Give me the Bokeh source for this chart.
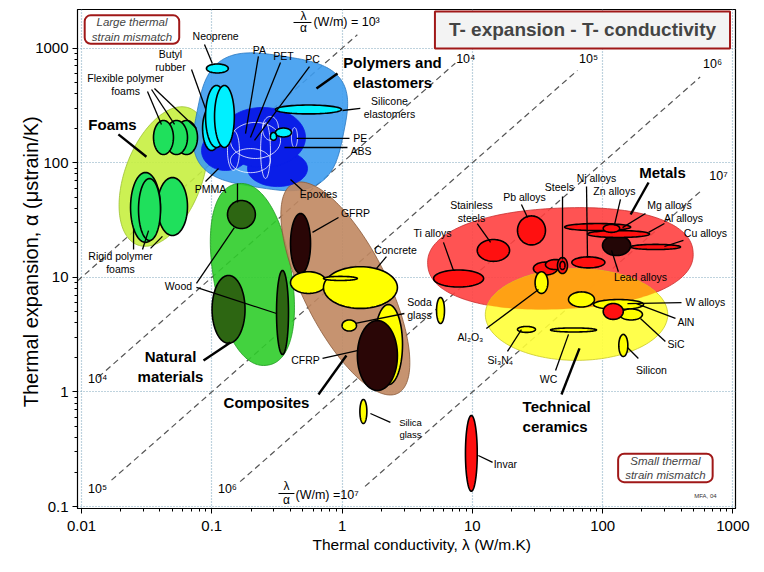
import numpy as np
from bokeh.plotting import figure
from bokeh.models import Range1d, FixedTicker, Label, ColumnDataSource, Title
from bokeh.core.properties import value
from bokeh.embed import file_html
from bokeh.resources import INLINE

FONT = "Liberation Sans"

# ------------------------------------------------------------------ data
# axis ticks
x_ticks = [0.01, 0.1, 1, 10, 100, 1000]
x_tick_labels = ["0.01", "0.1", "1", "10", "100", "1000"]
y_ticks = [0.1, 1, 10, 100, 1000]
y_tick_labels = ["0.1", "1", "10", "100", "1000"]
x_title = "Thermal conductivity, \u03bb  (W/m.K)"
y_title = "Thermal expansion, \u03b1  (\u03bcstrain/K)"

# family envelopes: centre (lambda W/m.K, alpha ustrain/K), half extents (decades), tilt (deg), squareness
family_names = ["Foams", "Polymers and elastomers", "Natural materials",
                "Composites", "Metals", "Technical ceramics"]
family_lam_c = [0.0426, 0.282, 0.205, 1.06, 47.4, 63.0]
family_alpha_c = [75.9, 228.0, 10.6, 8.0, 14.6, 4.74]
family_half_w = [0.30, 0.57, 0.30, 1.00, 1.02, 0.70]
family_half_h = [0.63, 0.58, 0.80, 0.33, 0.44, 0.40]
family_tilt = [-17, -10, 8, -67, 3, 0]
family_square = [2.0, 3.2, 2.2, 2.0, 2.2, 2.0]

# material bubbles (drawing order): lambda range, alpha range, kind
mat_name = ["PMMA", "Epoxies", "PA-PET-PC",
            "PA", "PET", "PC", "PS", "PP", "PE-thin",
            "Neoprene", "Butyl a", "Butyl b", "Butyl c", "Silicone", "PE", "ABS",
            "Flex foam c", "Flex foam b", "Flex foam a",
            "Rigid foam c", "Rigid foam a", "Rigid foam b",
            "Wood circle", "Wood big", "Wood thin",
            "GFRP",
            "Concrete small", "Concrete", "Concrete bar", "Glass crescent",
            "CFRP",
            "Soda glass", "Soda glass b", "Silica glass",
            "Ti alloys", "Stainless steels", "Pb alloys", "Steels a", "Steels b",
            "Steels c", "Steels d", "Nj alloys", "Lead alloys", "Mg alloys",
            "Al alloys", "Zn alloys", "Cu alloys", "Invar",
            "Al2O3", "BeO", "W alloys", "AlN", "W alloys red", "Si3N4", "WC", "Silicon"]
mat_lam_lo = [0.0834, 0.188, 0.115,
              0.139, 0.132, 0.237, 0.139, 0.245, 0.409,
              0.091, 0.085, 0.0896, 0.105, 0.308, 0.308, 0.282,
              0.0527, 0.0441, 0.0357,
              0.0383, 0.0238, 0.0274,
              0.132, 0.1005, 0.314,
              0.402,
              0.402, 0.72, 0.72, 1.77,
              1.31,
              1.0, 5.31, 1.37,
              5.04, 10.9, 22.2, 29.4, 36.4,
              45.0, 47.0, 58.0, 99.7, 51.0,
              76.5, 101, 164, 8.85,
              30.3, 54.7, 85.0, 135, 101, 22.2, 39.8, 133]
mat_lam_hi = [0.195, 0.543, 0.524,
              0.337, 0.163, 0.282, 0.282, 0.325, 0.455,
              0.134, 0.117, 0.132, 0.149, 0.99, 0.409, 0.314,
              0.0777, 0.0651, 0.0508,
              0.0651, 0.0404, 0.0404,
              0.216, 0.180, 0.388,
              0.573,
              0.759, 2.66, 1.31, 2.91,
              2.66,
              1.29, 6.11, 1.55,
              12.2, 19.3, 36.4, 45.0, 51.9,
              53.7, 51.4, 104, 164, 164,
              229, 135, 396, 10.9,
              38.0, 86.5, 206, 202, 144, 30.5, 89.8, 156]
mat_alpha_lo = [85.7, 62, 91,
                109, 86, 72.9, 82, 157, 136,
                608, 128, 136, 136, 267, 168, 157,
                118, 118, 118,
                23.2, 20.2, 21.0,
                26.7, 2.66, 2.12,
                10.8,
                7.24, 5.36, 9.4, 1.16,
                1.03,
                3.40, 3.96, 0.531,
                8.24, 13.8, 19.2, 10.5, 11.7,
                10.8, 11.7, 12.1, 15.5, 25.6,
                22.3, 24.7, 17.5, 0.136,
                7.24, 5.52, 5.25, 4.25, 4.3, 3.31, 3.34, 2.04]
mat_alpha_hi = [191, 128, 304,
                225, 191, 225, 133, 254, 203,
                728, 310, 473, 473, 319, 201, 184,
                234, 234, 234,
                74.4, 82.3, 72.9,
                46.9, 10.4, 11.5,
                36.1,
                11.2, 12.4, 10.2, 5.8,
                4.2,
                4.25, 6.68, 0.861,
                11.6, 21.4, 34.4, 13.6, 14.3,
                14.9, 13.8, 15.1, 23.2, 29.5,
                25.6, 29.0, 19.4, 0.624,
                11.2, 7.47, 6.41, 5.3, 5.92, 3.73, 3.62, 3.18]
mat_kind = (["polymer"] * 3 + ["polymer_edge"] * 6 + ["elastomer"] * 7 + ["foam"] * 6 +
            ["wood"] * 3 + ["composite"] + ["ceramic"] * 4 + ["composite"] +
            ["ceramic"] * 3 + ["metal"] * 8 + ["lead"] + ["metal"] * 5 +
            ["ceramic"] * 4 + ["metal"] + ["ceramic"] * 3)

# label texts and positions (lambda, alpha)
small_text = ["Neoprene", "Butyl\nrubber", "Flexible polymer\nfoams", "Rigid polymer\nfoams",
              "PMMA", "Wood", "GFRP", "Concrete", "Soda\nglass", "CFRP", "Invar",
              "Ti alloys", "Stainless\nsteels", "Pb alloys", "Steels", "Nj alloys",
              "Zn alloys", "Mg alloys", "Al alloys", "Cu alloys", "Lead alloys",
              "Al\u2082O\u2083", "Si\u2083N\u2084", "WC", "Silicon", "Silicone\nelastomers",
              "PA", "PET", "PC", "Epoxies"]
small_lam = [0.107, 0.0482, 0.0218, 0.0199, 0.0977, 0.0555, 1.267, 2.57, 3.93, 0.524, 17.9,
             4.94, 9.84, 25.1, 46.6, 89.7, 123, 326, 417, 615, 195,
             9.67, 16.4, 38.4, 237, 2.31, 0.232, 0.355, 0.593, 0.659]
small_alpha = [1265, 782, 482, 13.5, 58.5, 8.49, 36.8, 17.5, 5.35, 1.92, 0.233,
               24.2, 37.6, 49.8, 60.9, 74.4, 57.3, 42.4, 32.7, 24.2, 9.98,
               2.99, 1.92, 1.31, 1.54, 304, 974, 847, 797, 52.9]
left_text = ["W alloys", "AlN", "SiC", "PE", "ABS"]
left_lam = [432, 375, 315, 1.22, 1.16]
left_alpha = [6.04, 4.04, 2.60, 166, 125.5]
tiny_text = ["Silica\nglass"]
tiny_lam = [3.35]
tiny_alpha = [0.48]
family_text = ["Foams", "Polymers and\nelastomers", "Natural\nmaterials", "Composites", "Metals"]
family_text_lam = [0.0173, 2.44, 0.0482, 0.263, 288]
family_text_alpha = [216, 614, 1.67, 0.81, 82.3]
family_left_text = ["Technical\nceramics"]
family_left_lam = [24.3]
family_left_alpha = [0.611]

# leader lines: (lambda0, alpha0) -> (lambda1, alpha1)
leader_lam0 = [0.0879, 0.0699, 0.0321, 0.0345, 0.0363, 0.0251, 0.0294, 0.0339,
               0.0895, 0.0763, 0.0763, 0.1575, 0.939, 2.19, 3.01, 0.708, 1.65, 11.1,
               6.0, 10.9, 23.8, 49.2, 75.2, 137, 213, 298, 417, 132,
               12.8, 18.6, 43.5, 188, 403, 362, 303,
               1.38, 0.447, 0.361, 0.228, 0.337, 0.562, 0.497]
leader_alpha0 = [1077, 652, 419, 436, 445, 17.5, 17.5, 17.9,
                 68.7, 8.85, 8.17, 66, 33.3, 15.2, 4.84, 1.96, 0.649, 0.279,
                 20.2, 29.5, 43.3, 50.8, 62.1, 47.9, 36.1, 29.5, 21.0, 11.2,
                 3.58, 2.26, 1.54, 1.96, 6.02, 4.38, 2.76,
                 298, 163, 136, 847, 750, 692, 57.3]
leader_lam1 = [0.101, 0.0895, 0.0411, 0.0518, 0.0763, 0.0251, 0.0327, 0.0418,
               0.1126, 0.149, 0.314, 0.1575, 0.593, 1.84, 1.267, 1.31, 2.35, 14.3,
               7.16, 13.8, 26.5, 49.2, 76.5, 123, 142, 225, 298, 117,
               32.2, 23.8, 54.7, 155, 155, 182, 195,
               1.007, 1.14, 1.10, 0.1815, 0.198, 0.2128, 0.402]
leader_alpha1 = [735, 298, 216, 216, 199, 26.7, 25.6, 22.8,
                 89.1, 27.2, 4.84, 45, 24.7, 12.0, 3.96, 2.30, 0.542, 0.243,
                 11.5, 20.2, 33.3, 14.3, 14.9, 28.4, 27.2, 24.7, 18.6, 17.2,
                 7.84, 3.50, 3.18, 2.44, 5.90, 5.90, 4.38,
                 286, 163, 136, 180, 166, 157, 71.5]
family_leader_lam0 = [0.0192, 0.0864, 0.659, 225, 48.3, 0.923]
family_leader_alpha0 = [177, 1.88, 0.951, 67.3, 0.951, 601]
family_leader_lam1 = [0.0315, 0.139, 1.08, 164, 66.4, 0.636]
family_leader_alpha1 = [113, 2.70, 2.08, 35.4, 2.40, 445]

# guide lines lambda/alpha = const (W/m); alpha [ustrain/K] = lambda * 1e6 / const
guide_ratio = [1e3, 1e4, 1e5, 1e6, 1e7]
guide_lam_start = [0.0093, 0.0135, 0.017, 0.165, 1.5]
guide_lam_end = [1.31, 7.4, 64, 560, 560]
guide_text = ["10\u2074", "10\u2075", "10\u2076", "10\u2077", "10\u2074", "10\u2075", "10\u2076"]
guide_text_lam = [8.9, 77.9, 697, 774, 0.0133, 0.0133, 0.132]
guide_text_alpha = [800, 800, 721, 77.4, 1.31, 0.141, 0.141]
frac_lam = [0.506, 0.374]
frac_num_alpha = [1891, 0.1497]
frac_den_alpha = [1486, 0.113]
frac_bar_lam0 = [0.424, 0.325]
frac_bar_lam1 = [0.582, 0.431]
frac_bar_alpha = [1676, 0.130]
frac_text = ["(W/m) = 10\u00b3", "(W/m) =10\u2077"]
frac_text_lam = [0.603, 0.439]
frac_text_alpha = [1676, 0.125]

# ------------------------------------------------------------------ styles
family_fill = ["#c6f040", "#3d9cf0", "#2fcd2a", "#c08761", "#ff4040", "#ffff38"]
family_line = ["#9cc030", "#2a78c0", "#1f9a1f", "#8a5a3a", "#c83030", "#c8c828"]
overlap_fill = "#ff9c12"
kind_fill = {"polymer": "#0a1ee8", "polymer_edge": "#0a1ee8", "elastomer": "#00f0ff",
             "foam": "#1fe05c", "wood": "#2d6612", "composite": "#2a0606",
             "ceramic": "#ffff00", "metal": "#ff1010", "lead": "#230606"}
kind_line = {"polymer": "#0a1ee8", "polymer_edge": "white"}
kind_fill_alpha = {"polymer_edge": 0.0}

# ------------------------------------------------------------------ geometry helpers
def envelope_log(lc, ac, hw, hh, tilt, sq, n=180):
    t = np.linspace(0, 2 * np.pi, n, endpoint=False)
    c, s = np.cos(t), np.sin(t)
    u = hw * np.sign(c) * np.abs(c) ** (2.0 / sq)
    v = hh * np.sign(s) * np.abs(s) ** (2.0 / sq)
    th = np.radians(tilt)
    X = np.log10(lc) + u * np.cos(th) - v * np.sin(th)
    Y = np.log10(ac) + u * np.sin(th) + v * np.cos(th)
    return X, Y


def bubble_log(l0, l1, a0, a1, n=72):
    t = np.linspace(0, 2 * np.pi, n, endpoint=False)
    cx, rx = (np.log10(l0) + np.log10(l1)) / 2, (np.log10(l1) - np.log10(l0)) / 2
    cy, ry = (np.log10(a0) + np.log10(a1)) / 2, (np.log10(a1) - np.log10(a0)) / 2
    return cx + rx * np.cos(t), cy + ry * np.sin(t)


def clip_convex(subject, clipper):
    out = list(subject)
    m = len(clipper)
    for i in range(m):
        ax, ay = clipper[i]
        bx, by = clipper[(i + 1) % m]
        inp, out = out, []
        if not inp:
            break

        def side(px, py):
            return (bx - ax) * (py - ay) - (by - ay) * (px - ax)
        sx, sy = inp[-1]
        for ex, ey in inp:
            se, ss = side(ex, ey), side(sx, sy)
            if se >= 0:
                if ss < 0:
                    t = ss / (ss - se)
                    out.append((sx + t * (ex - sx), sy + t * (ey - sy)))
                out.append((ex, ey))
            elif ss >= 0:
                t = ss / (ss - se)
                out.append((sx + t * (ex - sx), sy + t * (ey - sy)))
            sx, sy = ex, ey
    return out

# ------------------------------------------------------------------ figure
p = figure(width=764, height=572, x_axis_type="log", y_axis_type="log",
           x_range=Range1d(0.00932, 1046), y_range=Range1d(0.0962, 2176),
           output_backend="svg", toolbar_location=None,
           min_border_left=77, min_border_right=29, min_border_top=9, min_border_bottom=64)
p.background_fill_color = "white"
p.border_fill_color = "white"
p.outline_line_color = "black"
p.outline_line_width = 1.2

minor_x = [k * 10.0 ** d for d in range(-2, 3) for k in range(2, 10)]
minor_y = [k * 10.0 ** d for d in range(-1, 3) for k in range(2, 10)]
p.xaxis.ticker = FixedTicker(ticks=x_ticks, minor_ticks=minor_x)
p.yaxis.ticker = FixedTicker(ticks=y_ticks, minor_ticks=minor_y)
p.xaxis.major_label_overrides = dict(zip(x_ticks, x_tick_labels))
p.yaxis.major_label_overrides = dict(zip(y_ticks, y_tick_labels))
for ax in (p.xaxis[0], p.yaxis[0]):
    ax.major_label_text_font = FONT
    ax.major_label_text_font_size = "15px"
    ax.major_label_text_color = "black"
    ax.axis_line_color = "black"
    ax.major_tick_line_color = "black"
    ax.minor_tick_line_color = "black"
    ax.major_tick_in = 0
    ax.major_tick_out = 5
    ax.minor_tick_in = 0
    ax.minor_tick_out = 3
p.xaxis.major_label_standoff = 7
p.yaxis.major_label_standoff = 4

# y-axis title (as the axis label, pulled close to the tick labels)
p.yaxis.axis_label = y_title
p.yaxis.axis_label_text_font = FONT
p.yaxis.axis_label_text_font_size = "20px"
p.yaxis.axis_label_text_font_style = "normal"
p.yaxis.axis_label_text_color = "black"
p.yaxis.axis_label_standoff = -10

# x-axis title (as a title below the axis, left-aligned with an offset)
p.add_layout(Title(text=x_title, align="left", offset=235, text_font=FONT,
                   text_font_size="15.5px", text_font_style="normal",
                   text_color="black", standoff=0), "below")

p.xgrid.ticker = FixedTicker(ticks=x_ticks)
p.ygrid.ticker = FixedTicker(ticks=y_ticks)
for g in (p.xgrid[0], p.ygrid[0]):
    g.grid_line_color = "#7fa6bd"
    g.grid_line_dash = "1 2"
    g.grid_line_width = 1.2

# guide lines
gx, gy = [], []
for r, l0, l1 in zip(guide_ratio, guide_lam_start, guide_lam_end):
    gx.append([l0, l1])
    gy.append([l0 * 1e6 / r, l1 * 1e6 / r])
p.multi_line(gx, gy, line_color="#555555", line_dash="6 4", line_width=1.2)

# envelopes
env_polys = []
for i in range(len(family_names)):
    X, Y = envelope_log(family_lam_c[i], family_alpha_c[i], family_half_w[i],
                        family_half_h[i], family_tilt[i], family_square[i])
    env_polys.append((X, Y))
env_src = ColumnDataSource(dict(
    xs=[10 ** X for X, Y in env_polys], ys=[10 ** Y for X, Y in env_polys],
    fill=family_fill, line=family_line))
p.patches("xs", "ys", source=env_src, fill_color="fill", line_color="line",
          fill_alpha=0.9, line_width=1, line_alpha=0.8)

# overlap of metals and technical ceramics
mi = family_names.index("Metals")
ci = family_names.index("Technical ceramics")
subj = list(zip(*env_polys[mi]))
clip = list(zip(*env_polys[ci]))
ov = clip_convex(subj, clip)
if ov:
    ox = [10 ** q[0] for q in ov]
    oy = [10 ** q[1] for q in ov]
    p.patch(ox, oy, fill_color=overlap_fill, fill_alpha=0.95, line_color=None)

# material bubbles
bx, by, bf, bl, bw, ba = [], [], [], [], [], []
for i in range(len(mat_name)):
    X, Y = bubble_log(mat_lam_lo[i], mat_lam_hi[i], mat_alpha_lo[i], mat_alpha_hi[i])
    k = mat_kind[i]
    bx.append(10 ** X)
    by.append(10 ** Y)
    bf.append(kind_fill[k])
    bl.append(kind_line.get(k, "black"))
    bw.append(0.8 if k.startswith("polymer") else 1.6)
    ba.append(kind_fill_alpha.get(k, 1.0))
b_src = ColumnDataSource(dict(xs=bx, ys=by, fill=bf, line=bl, lw=bw, fa=ba))
p.patches("xs", "ys", source=b_src, fill_color="fill", line_color="line",
          line_width="lw", fill_alpha="fa")

# leaders
p.segment(leader_lam0, leader_alpha0, leader_lam1, leader_alpha1,
          line_color="black", line_width=1.3)
p.segment(family_leader_lam0, family_leader_alpha0, family_leader_lam1, family_leader_alpha1,
          line_color="black", line_width=2.4)
p.segment(frac_bar_lam0, frac_bar_alpha, frac_bar_lam1, frac_bar_alpha,
          line_color="black", line_width=1)

# texts
def txt(xs, ys, texts, size, align="center", style="normal", lh=1.05, color="black"):
    p.text(xs, ys, text=texts, text_font=value(FONT), text_font_size=size,
           text_align=align, text_baseline="middle", text_font_style=style,
           text_line_height=lh, text_color=color)

txt(small_lam, small_alpha, small_text, "10.5px")
txt(left_lam, left_alpha, left_text, "10.5px", align="left")
txt(tiny_lam, tiny_alpha, tiny_text, "9.5px")
txt(family_text_lam, family_text_alpha, family_text, "15px", style="bold", lh=1.15)
txt(family_left_lam, family_left_alpha, family_left_text, "15px", align="left", style="bold", lh=1.15)
txt(guide_text_lam, guide_text_alpha, guide_text, "12.5px")
txt(frac_lam, frac_num_alpha, ["\u03bb"] * 2, "12px")
txt(frac_lam, frac_den_alpha, ["\u03b1"] * 2, "12px")
txt(frac_text_lam, frac_text_alpha, frac_text, "12.5px", align="left")

# boxes
p.add_layout(Label(x=0.0244, y=1455, text="Large thermal\nstrain mismatch",
                   text_font=FONT, text_font_size="11.5px", text_font_style="italic",
                   text_align="center", text_baseline="middle",
                   background_fill_color="white", border_line_color="#a01818",
                   border_line_width=2, padding=(7, 1), border_radius=6))
p.add_layout(Label(x=303, y=0.2173, text="Small thermal\nstrain mismatch",
                   text_font=FONT, text_font_size="11.5px", text_font_style="italic",
                   text_align="center", text_baseline="middle",
                   background_fill_color="white", border_line_color="#a01818",
                   border_line_width=2, padding=(7, 1), border_radius=6))
p.add_layout(Label(x=70, y=1443, text="T- expansion - T- conductivity",
                   text_font=FONT, text_font_size="19px", text_font_style="bold",
                   text_align="center", text_baseline="middle",
                   background_fill_color="#f3f3f3", border_line_color="#a01818",
                   border_line_width=2, padding=(14, 8)))
p.add_layout(Label(x=615, y=0.1225, text="MFA, 04", text_font=FONT,
                   text_font_size="6px", text_align="center", text_baseline="middle",
                   text_color="#333333"))

open("out.html", "w").write(file_html(p, INLINE))
